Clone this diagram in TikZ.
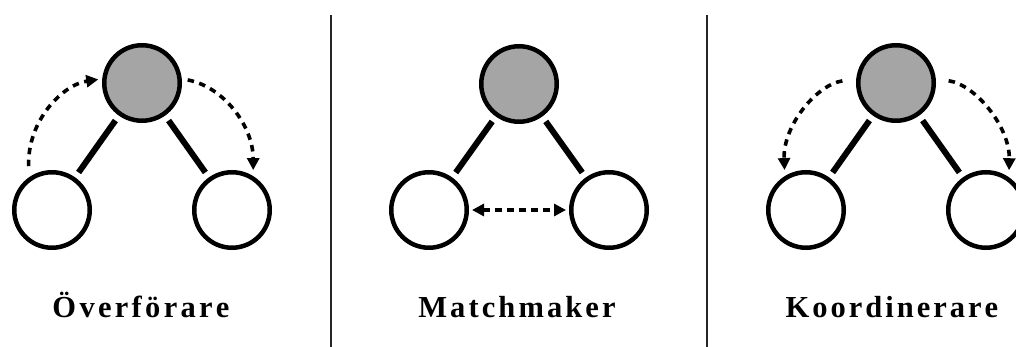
\documentclass[tikz,border=0pt]{standalone}
\usepackage{fontspec}
\setmainfont{Liberation Serif}
\usetikzlibrary{arrows.meta}
\definecolor{hubgray}{RGB}{165,165,165}
\ExplSyntaxOn
\NewDocumentCommand\spacedword{mm}{\tl_map_inline:nn{#2}{##1\kern#1}\kern-#1}
\ExplSyntaxOff
\tikzset{
 hub/.style={circle, draw, line width=4.5pt, minimum size=75.5pt, inner sep=0pt, fill=hubgray},
 member/.style={circle, draw, line width=4.5pt, minimum size=75.5pt, inner sep=0pt, fill=white},
 tie/.style={line width=6pt, shorten <=6pt, shorten >=6pt},
 flow/.style={line width=3.6pt, dash pattern=on 6.5pt off 5.5pt, -{Triangle[length=12pt,width=12pt]}},
 flowboth/.style={line width=3.6pt, dash pattern=on 6.5pt off 5.5pt, {Triangle[length=12pt,width=12pt]}-{Triangle[length=12pt,width=12pt]}},
 sep/.style={line width=1.5pt, draw=black!85},
 lbl/.style={anchor=base, font=\fontsize{30.5}{36}\selectfont\bfseries, inner sep=0pt}
}
\begin{document}
\begin{tikzpicture}[x=1pt,y=1pt]
\useasboundingbox (0,0) rectangle (1016,347);
% separators
\coordinate (s1t) at (331,332); \coordinate (s1b) at (331,0);
\coordinate (s2t) at (707,332); \coordinate (s2b) at (707,0);
\draw[sep] (s1t) -- (s1b);
\draw[sep] (s2t) -- (s2b);
% panel 1
\node[hub] (T1) at (142,264) {};
\node[member] (L1) at (52,137) {};
\node[member] (R1) at (232,137) {};
\draw[tie] (T1) -- (L1);
\draw[tie] (T1) -- (R1);
\draw[flow, shorten <=11pt, shorten >=4pt] (L1.125) .. controls +(-2,56) and +(-40,-6) .. (T1.174);
\draw[flow, shorten <=6pt, shorten >=6pt] (T1.6) .. controls +(42,-8) and +(0,50) .. (R1.58);
\node[lbl] (lab1) at (141,29.5) {\spacedword{3.3pt}{Överförare}};
% panel 2
\node[hub] (T2) at (519,263) {};
\node[member] (L2) at (429,137) {};
\node[member] (R2) at (609,137) {};
\draw[tie] (T2) -- (L2);
\draw[tie] (T2) -- (R2);
\draw[flowboth, shorten <=3pt, shorten >=3pt] (L2) -- (R2);
\node[lbl] (lab2) at (517,29.5) {\spacedword{3.1pt}{Matchmaker}};
% panel 3
\node[hub] (T3) at (896,264) {};
\node[member] (L3) at (806,137) {};
\node[member] (R3) at (986,137) {};
\draw[tie] (T3) -- (L3);
\draw[tie] (T3) -- (R3);
\draw[flow, shorten <=14pt, shorten >=6pt] (T3.174) .. controls +(-40,-6) and +(-2,50) .. (L3.122);
\draw[flow, shorten <=13pt, shorten >=7pt] (T3.6) .. controls +(40,-6) and +(1,50) .. (R3.55);
\node[lbl] (lab3) at (892,29.5) {\spacedword{3pt}{Koordinerare}};
\end{tikzpicture}
\end{document}
